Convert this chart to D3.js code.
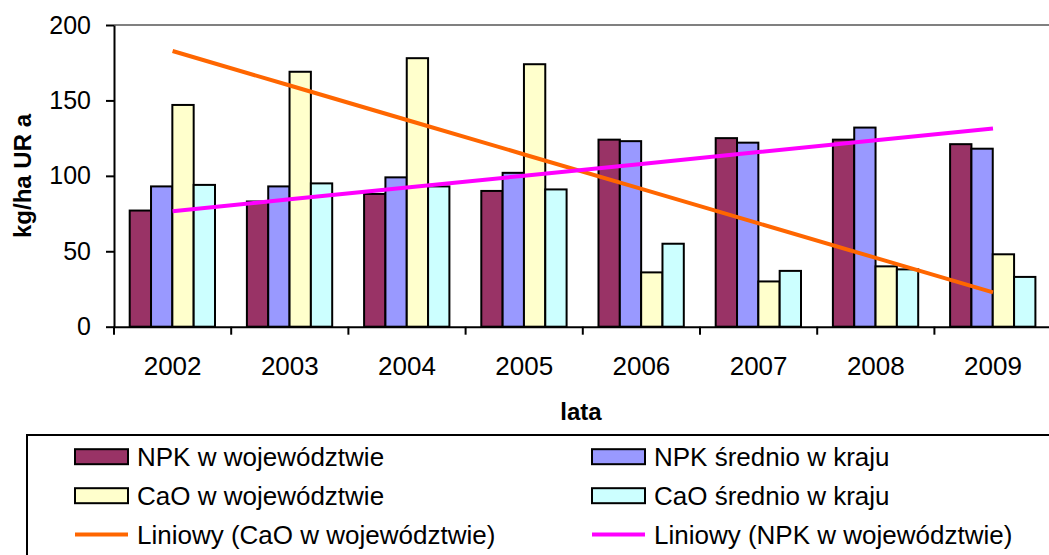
<!DOCTYPE html>
<html lang="pl">
<head>
<meta charset="UTF-8">
<title>Nawożenie NPK i CaO</title>
<script src="https://d3js.org/d3.v7.min.js"></script>
<style>
  body { margin: 0; background: #fff; }
  svg { display: block; font-family: Arial, "Liberation Sans", sans-serif; }
</style>
</head>
<body>
<svg width="1049" height="555"></svg>
<script>
const years = ["2002", "2003", "2004", "2005", "2006", "2007", "2008", "2009"];
const npkWoj = [77, 83, 88, 90, 124, 125, 124, 121];
const npkKraj = [93, 93, 99, 102, 123, 122, 132, 118];
const caoWoj = [147, 169, 178, 174, 36, 30, 40, 48];
const caoKraj = [94, 95, 93, 91, 55, 37, 38, 33];
const yTicks = [0, 50, 100, 150, 200];

const seriesNames = ["NPK w województwie", "NPK średnio w kraju", "CaO w województwie", "CaO średnio w kraju"];
const seriesColors = ["#993366", "#9999FF", "#FFFFCC", "#CCFFFF"];
const trendNames = ["Liniowy (CaO w województwie)", "Liniowy (NPK w województwie)"];
const trendColors = ["#FF6600", "#FF00FF"];

const series = [npkWoj, npkKraj, caoWoj, caoKraj];

const svg = d3.select("svg");
svg.append("rect").attr("width", 1049).attr("height", 555).attr("fill", "#fff");

const plotLeft = 114, plotTop = 25, plotBottom = 326.7, step = 117.2;

const x0 = d3.scaleBand()
  .domain(years)
  .range([plotLeft, plotLeft + step * years.length]);

const x1 = d3.scaleBand()
  .domain(d3.range(series.length))
  .range([15.7, 101]);

const y = d3.scaleLinear().domain([0, 200]).range([plotBottom, plotTop]);

// plot area top border
svg.append("line")
  .attr("x1", plotLeft).attr("x2", 1049)
  .attr("y1", y(200)).attr("y2", y(200))
  .attr("stroke", "#808080").attr("stroke-width", 2);

// bars
const groups = svg.append("g").selectAll("g")
  .data(years)
  .join("g")
  .attr("transform", d => `translate(${x0(d)},0)`);

groups.selectAll("rect")
  .data((d, i) => series.map((s, k) => ({ k, v: s[i] })))
  .join("rect")
  .attr("x", d => x1(d.k))
  .attr("y", d => y(d.v))
  .attr("width", x1.bandwidth())
  .attr("height", d => y(0) - y(d.v))
  .attr("fill", d => seriesColors[d.k])
  .attr("stroke", "#000")
  .attr("stroke-width", 2);

// linear trends (least squares, like the spreadsheet)
function trend(vals) {
  const xs = vals.map((v, i) => i + 1);
  const mx = d3.mean(xs), my = d3.mean(vals);
  const b = d3.sum(xs, (xv, i) => (xv - mx) * (vals[i] - my)) / d3.sum(xs, xv => (xv - mx) ** 2);
  return xs.map(xv => my + b * (xv - mx));
}

const line = d3.line()
  .x((d, i) => x0(years[i]) + x0.bandwidth() / 2)
  .y(d => y(d));

[caoWoj, npkWoj].forEach((s, k) => {
  svg.append("path")
    .attr("d", line(trend(s)))
    .attr("fill", "none")
    .attr("stroke", trendColors[k])
    .attr("stroke-width", 4);
});

// y axis
const yAxis = svg.append("g")
  .attr("transform", `translate(${plotLeft},0)`)
  .call(d3.axisLeft(y).tickValues(yTicks).tickSize(8).tickPadding(15).tickSizeOuter(0));
yAxis.select(".domain").attr("stroke-width", 2);
yAxis.selectAll(".tick line").attr("stroke-width", 2);
yAxis.selectAll("text").attr("font-size", 25).attr("fill", "#000");

// x axis
const xAxis = svg.append("g")
  .attr("transform", `translate(0,${plotBottom})`)
  .call(d3.axisBottom(x0).tickSize(0).tickPadding(30).tickSizeOuter(0));
xAxis.select(".domain").attr("stroke-width", 2);
xAxis.selectAll("text").attr("font-size", 26).attr("fill", "#000");
xAxis.selectAll(".sep")
  .data(years)
  .join("line")
  .attr("class", "sep")
  .attr("x1", d => x0(d)).attr("x2", d => x0(d))
  .attr("y1", 0).attr("y2", 8)
  .attr("stroke", "#000").attr("stroke-width", 2);
svg.selectAll(".domain").attr("stroke", "#000");
svg.selectAll("g text").attr("font-family", "Arial, 'Liberation Sans', sans-serif");

// axis titles
svg.append("text")
  .attr("x", 581).attr("y", 420)
  .attr("text-anchor", "middle")
  .attr("font-size", 24).attr("font-weight", "bold")
  .text("lata");

svg.append("text")
  .attr("transform", "translate(31,176) rotate(-90)")
  .attr("text-anchor", "middle")
  .attr("font-size", 24).attr("font-weight", "bold")
  .text("kg/ha UR a");

// legend
svg.append("rect")
  .attr("x", 27).attr("y", 435)
  .attr("width", 1100).attr("height", 200)
  .attr("fill", "#fff").attr("stroke", "#000").attr("stroke-width", 2);

const colX = [75, 592];
const rowY = [456.7, 495.7, 534.5];

const legendItems = seriesNames.map((n, k) => ({ name: n, color: seriesColors[k], type: "bar" }))
  .concat(trendNames.map((n, k) => ({ name: n, color: trendColors[k], type: "line" })));

const leg = svg.append("g").selectAll("g")
  .data(legendItems)
  .join("g")
  .attr("transform", (d, i) => `translate(${colX[i % 2]},${rowY[Math.floor(i / 2)]})`);

leg.filter(d => d.type === "bar").append("rect")
  .attr("x", 0).attr("y", -7.5)
  .attr("width", 53).attr("height", 15)
  .attr("fill", d => d.color)
  .attr("stroke", "#000").attr("stroke-width", 2);

leg.filter(d => d.type === "line").append("line")
  .attr("x1", 0).attr("x2", 53)
  .attr("y1", 0).attr("y2", 0)
  .attr("stroke", d => d.color).attr("stroke-width", 4);

leg.append("text")
  .attr("x", 62).attr("y", 9.5)
  .attr("font-size", 26)
  .text(d => d.name);
</script>
</body>
</html>
